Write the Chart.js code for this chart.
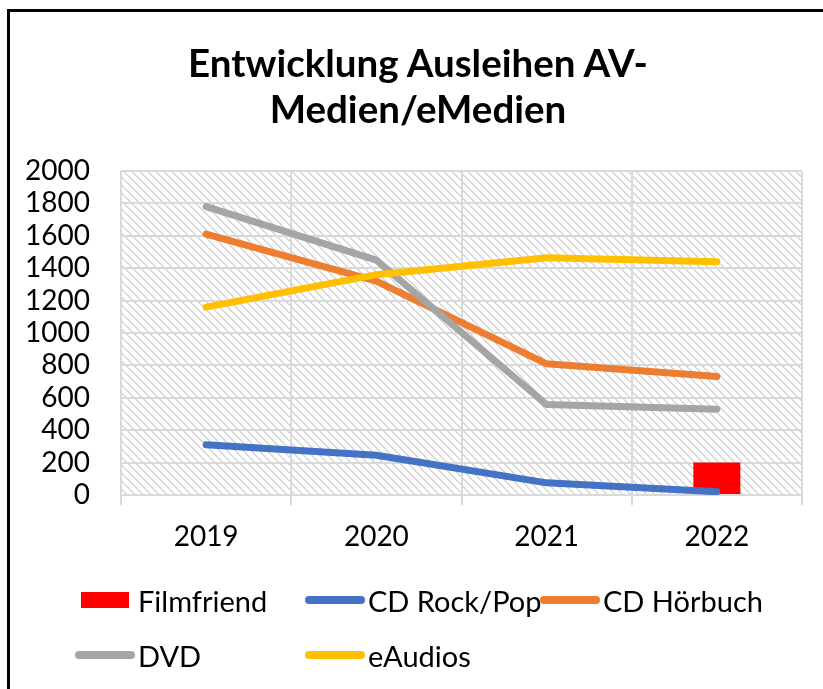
<!DOCTYPE html>
<html>
<head>
<meta charset="utf-8">
<script src="https://cdn.jsdelivr.net/npm/chart.js@4.4.1/dist/chart.umd.min.js"></script>
<style>
  html, body { margin: 0; padding: 0; background: #fff; }
  #wrap { position: relative; width: 823px; height: 689px; overflow: hidden; font-family: Lato, sans-serif; }
  #frame { position: absolute; left: 7px; top: 9px; width: 900px; height: 800px; border: 3px solid #000; box-sizing: border-box; }
  #wrap canvas { position: absolute; left: 0; top: 0; }
  #title { position: absolute; left: 0; top: 39px; width: 836px; text-align: center; font-size: 38.5px; font-weight: bold; line-height: 46px; color: #000; }
  .lg { position: absolute; display: flex; align-items: center; height: 40px; font-size: 29px; color: #000; white-space: nowrap; }
  .lg .mk { width: 60px; display: flex; justify-content: center; margin-right: 3px; }
</style>
</head>
<body>
<div id="wrap">
  <div id="frame"></div>
  <canvas id="avChart" width="823" height="689"></canvas>
  <div id="title"></div>
  <div id="legend"></div>
</div>
<script>
/* ============================================================
   AUSLEIHEN AV-MEDIEN / EMEDIEN
   ============================================================ */

const chartTitle = ['Entwicklung Ausleihen AV-', 'Medien/eMedien'];
const years = ['2019', '2020', '2021', '2022'];
const seriesNames = ['Filmfriend', 'CD Rock/Pop', 'CD Hörbuch', 'DVD', 'eAudios'];
const filmfriend = [null, null, null, 200];
const cdRockPop = [310, 245, 75, 20];
const cdHoerbuch = [1610, 1320, 810, 732];
const dvd = [1780, 1450, 558, 530];
const eAudios = [1160, 1360, 1465, 1440];
const yTicks = { min: 0, max: 2000, step: 200 };

const colors = ['#FF0000', '#4472C4', '#ED7D31', '#A5A5A5', '#FFC000'];
const GRID = '#d9d9d9';

function makeHatch() {
  const c = document.createElement('canvas');
  c.width = 8; c.height = 8;
  const g = c.getContext('2d');
  g.fillStyle = '#fff';
  g.fillRect(0, 0, 8, 8);
  g.fillStyle = '#d6d6d6';
  for (let i = 0; i < 8; i++) {
    g.fillRect(i, i, 1, 1);
    g.fillRect((i + 1) % 8, i, 1, 1);
  }
  return g.createPattern(c, 'repeat');
}

const hatchPlugin = {
  id: 'hatch',
  beforeDraw(chart) {
    const { ctx, chartArea: a } = chart;
    ctx.save();
    ctx.fillStyle = makeHatch();
    ctx.fillRect(a.left, a.top, a.width, a.height);
    ctx.restore();
  }
};

function lineSet(label, data, color, order) {
  return {
    type: 'line', label, data, order,
    borderColor: color, backgroundColor: color,
    borderWidth: 7, borderCapStyle: 'round', borderJoinStyle: 'round',
    pointRadius: 0, tension: 0, fill: false
  };
}

function renderLegend(chart) {
  const cols = [75, 305, 540];
  const rows = [580, 635];
  document.getElementById('legend').innerHTML = chart.data.datasets.map((d, i) => {
    const mark = d.type === 'line'
      ? `<div style="width:60px;height:8px;border-radius:4px;background:${d.borderColor}"></div>`
      : `<div style="width:48px;height:16px;background:${d.backgroundColor}"></div>`;
    return `<div class="lg" style="left:${cols[i % 3]}px;top:${rows[Math.floor(i / 3)]}px"><div class="mk">${mark}</div><span>${d.label}</span></div>`;
  }).join('');
}

function renderChart() {
  Chart.defaults.font.family = 'Lato, sans-serif';
  Chart.defaults.color = '#000';

  document.getElementById('title').innerHTML = chartTitle.join('<br>');

  const chart = new Chart(document.getElementById('avChart').getContext('2d'), {
    type: 'bar',
    data: {
      labels: years,
      datasets: [
        { type: 'bar', label: seriesNames[0], data: filmfriend, backgroundColor: colors[0], order: 5,
          categoryPercentage: 1, barPercentage: 0.276 },
        lineSet(seriesNames[1], cdRockPop, colors[1], 4),
        lineSet(seriesNames[2], cdHoerbuch, colors[2], 3),
        lineSet(seriesNames[3], dvd, colors[3], 2),
        lineSet(seriesNames[4], eAudios, colors[4], 1)
      ]
    },
    options: {
      responsive: false,
      animation: false,
      layout: { padding: { left: 0, right: 21, top: 171, bottom: 0 } },
      plugins: {
        legend: { display: false },
        tooltip: { enabled: false },
        title: { display: false }
      },
      scales: {
        x: {
          offset: true,
          grid: { color: GRID, lineWidth: 2, tickLength: 10, offset: true },
          border: { color: GRID, width: 2 },
          ticks: { color: '#000', font: { size: 28 }, padding: 15 },
          afterFit(s) { s.height = 194; }
        },
        y: {
          min: yTicks.min, max: yTicks.max,
          grid: { color: GRID, lineWidth: 2, drawTicks: false },
          border: { display: false },
          ticks: {
            stepSize: yTicks.step, autoSkip: false, color: '#000', font: { size: 28 }, padding: 31,
            callback: v => String(v)
          },
          afterFit(s) { s.width = 121; }
        }
      }
    },
    plugins: [hatchPlugin]
  });

  renderLegend(chart);
}

renderChart();
</script>
</body>
</html>
